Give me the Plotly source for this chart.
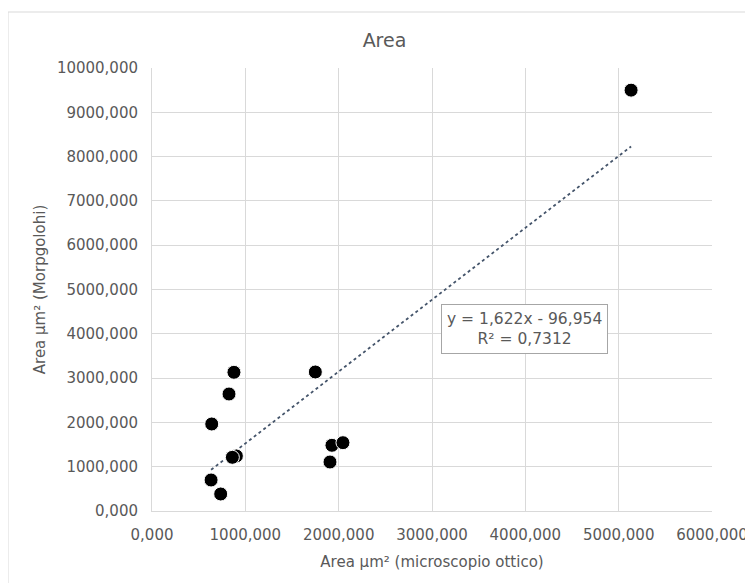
import plotly.graph_objects as go
import numpy as np

# Data
x_ottico = [5133, 878, 825, 640, 904, 861, 633, 736, 1750, 1928, 2046, 1907]
y_morph = [9500, 3131, 2641, 1964, 1242, 1212, 700, 384, 3138, 1483, 1542, 1106]

# Trendline coefficients (as printed on the chart)
slope = 1.622
intercept = -96.954
r2 = 0.7312

x_ticks = [0, 1000, 2000, 3000, 4000, 5000, 6000]
y_ticks = [0, 1000, 2000, 3000, 4000, 5000, 6000, 7000, 8000, 9000, 10000]

font_family = "DejaVu Sans"
grey = "#595959"

tx = np.array([min(x_ottico), max(x_ottico)])
ty = slope * tx + intercept

fig = go.Figure()
fig.add_trace(go.Scatter(
    x=tx, y=ty, mode="lines",
    line=dict(color="#44546A", width=1.8, dash="dot"),
    showlegend=False, hoverinfo="skip"))
fig.add_trace(go.Scatter(
    x=x_ottico, y=y_morph, mode="markers",
    marker=dict(size=14, color="black", line=dict(color="white", width=1)),
    showlegend=False))

fig.update_layout(
    width=753, height=583,
    margin=dict(l=144, r=49, t=60, b=80),
    paper_bgcolor="white", plot_bgcolor="white",
    separators=",.",
    font=dict(family=font_family, size=15, color=grey),
    title=dict(text="Area", x=0.5, xanchor="center", y=1 - 32 / 583, yanchor="middle",
               font=dict(size=19, color=grey, family=font_family)),
    xaxis=dict(range=[0, 6000], tickvals=x_ticks, tickformat=".3f",
               showgrid=True, gridcolor="#D9D9D9", gridwidth=1,
               zeroline=False, showline=True, linecolor="#D9D9D9", linewidth=1,
               ticks="", tickfont=dict(size=15, color=grey), ticklabelstandoff=10,
               title=dict(text="Area µm² (microscopio ottico)", standoff=13,
                          font=dict(size=15, color=grey))),
    yaxis=dict(range=[0, 10000], tickvals=y_ticks, tickformat=".3f",
               showgrid=True, gridcolor="#D9D9D9", gridwidth=1,
               zeroline=False, showline=True, linecolor="#D9D9D9", linewidth=1,
               ticks="", tickfont=dict(size=15, color=grey), ticklabelstandoff=10,
               title=dict(text="Area µm² (Morpgolohi)", standoff=7,
                          font=dict(size=15, color=grey))),
)

fig.add_annotation(
    x=3986, y=4108, xref="x", yref="y",
    text=f"y = {slope:.3f}x - {abs(intercept):.3f}".replace(".", ",") + "<br>" +
         f"R² = {r2:.4f}".replace(".", ","),
    showarrow=False, font=dict(size=15.5, color=grey, family=font_family),
    bordercolor="#A6A6A6", borderwidth=1, bgcolor="white", borderpad=5, align="center")

# outer chart border (right and bottom edges fall outside the view)
fig.add_shape(type="rect", xref="paper", yref="paper",
              x0=(0 - 144) / 560, x1=(760 - 144) / 560,
              y0=(503 - 600) / 443, y1=(503 - 4) / 443,
              line=dict(color="#D9D9D9", width=1), layer="below")

fig.write_html("out.html")
